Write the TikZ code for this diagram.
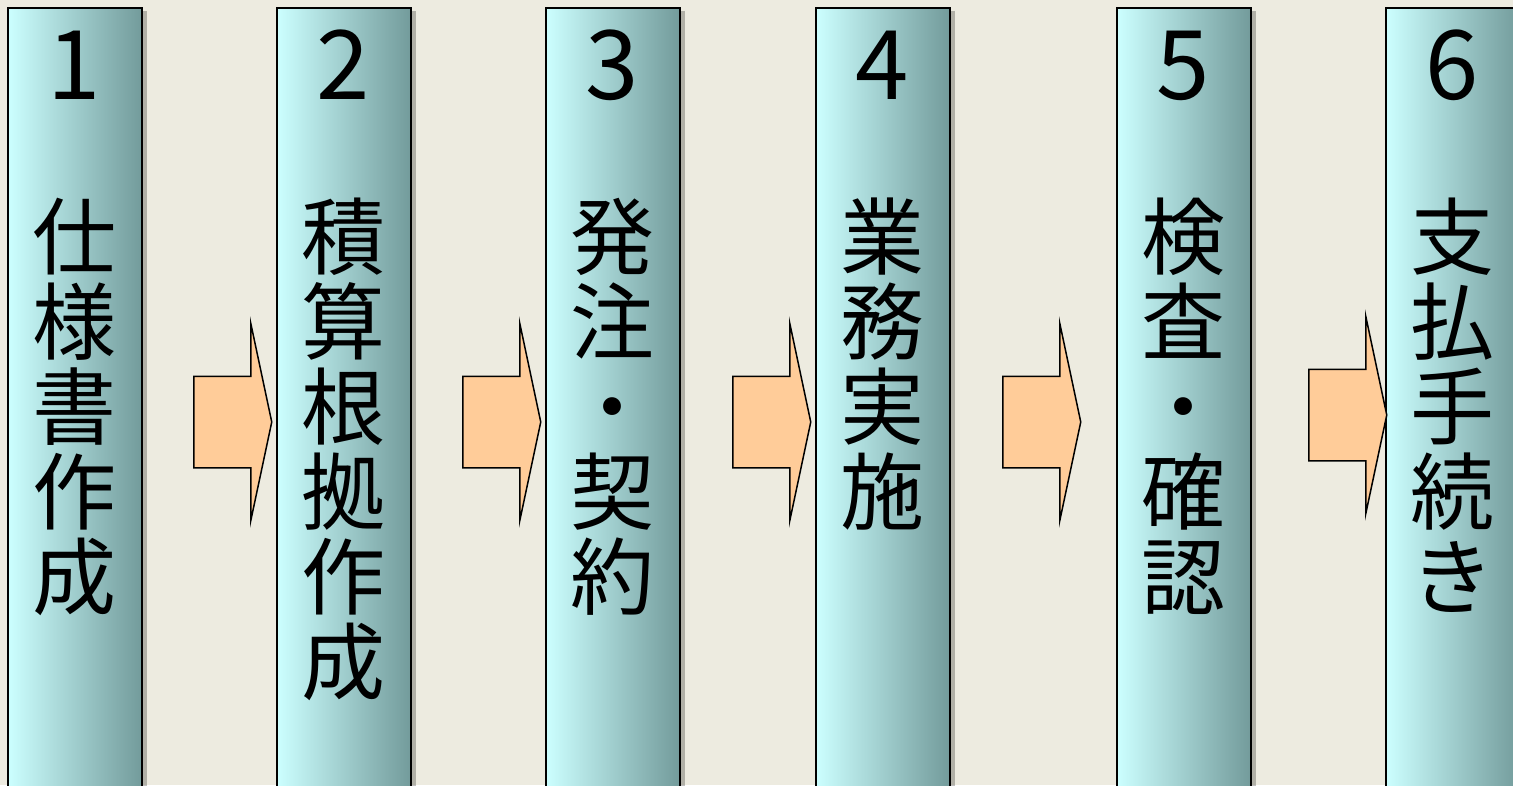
\documentclass[tikz,border=0pt]{standalone}
\usepackage{fontspec}
\newfontfamily\cjk{Noto Sans CJK JP}
\usepackage{tikz}
\usetikzlibrary{shadows,shapes.arrows,positioning}
\definecolor{paper}{RGB}{237,235,224}
\definecolor{colleft}{RGB}{204,255,255}
\definecolor{colright}{RGB}{115,155,155}
\definecolor{arrowfill}{RGB}{255,204,153}

\begin{document}
\begin{tikzpicture}[x=1pt,y=-1pt,
    column/.style={draw=black,line width=1.5pt,left color=colleft,right color=colright,
      minimum width=134pt,minimum height=820pt,anchor=north west,inner sep=0pt,
      drop shadow={shadow xshift=5pt,shadow yshift=-3pt,opacity=0.25,fill=black}},
    digit/.style={font=\cjk\fontsize{96}{96}\selectfont,anchor=base,inner sep=0pt},
    kanji/.style={font=\cjk\fontsize{84}{85}\selectfont,anchor=base,inner sep=0pt},
    flowarrow/.style={shape=single arrow,draw=black,line width=1.5pt,fill=arrowfill,
      single arrow tip angle=156,single arrow head extend=53pt,
      inner xsep=0pt,inner ysep=45pt,minimum height=78pt,anchor=tail}]
  \useasboundingbox (0,0) rectangle (1513,785);
  \clip (0,0) rectangle (1513,785);
  \fill[paper] (0,0) rectangle (1513,785);
  \foreach \n/\x/\chars in {1/7/{仕,様,書,作,成},2/276/{積,算,根,拠,作,成},
      3/545/{発,注,・,契,約},4/815/{業,務,実,施},
      5/1116/{検,査,・,確,認},6/1385/{支,払,手,続,き}} {
    \node[column] (c\n) at (\x,7) {};
    \node[digit] (c\n-num) at ({\x+67},99) {\n};
    \foreach \ch [count=\i] in \chars
      \node[kanji] (c\n-\i) at ({\x+67},{268+85*(\i-1)}) {\ch};
  }
  \begin{scope}[every node/.style={flowarrow}]
    \node (a1) at (193,422) {};
    \node (a2) at (462,422) {};
    \node (a3) at (732,422) {};
    \node (a4) at (1002,422) {};
    \node (a5) at (1308,415) {};
  \end{scope}
\end{tikzpicture}
\end{document}
